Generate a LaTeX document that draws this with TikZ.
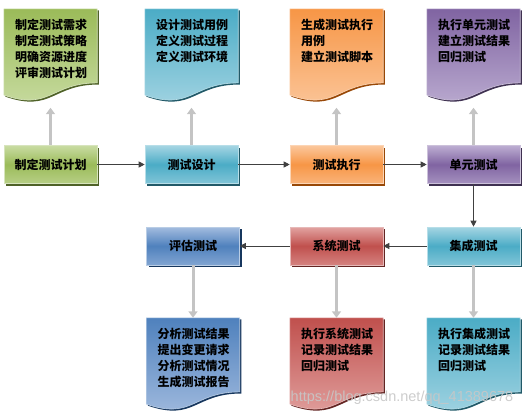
\documentclass[tikz,border=0pt]{standalone}
\usepackage{fontspec}
\setmainfont{Noto Sans CJK SC}
\newfontfamily\wmfont{Liberation Sans}
\usetikzlibrary{calc,arrows.meta,shadows}
\pgfdeclarelayer{bg}\pgfsetlayers{bg,main}
% colours: A base, L light, S shadow, B border
\definecolor{gA}{HTML}{9BBB59}\definecolor{gL}{HTML}{C9DCA3}\definecolor{gS}{HTML}{4F6228}\definecolor{gB}{HTML}{D7E4BD}
\definecolor{aA}{HTML}{4BACC6}\definecolor{aL}{HTML}{A5D5E3}\definecolor{aS}{HTML}{215968}\definecolor{aB}{HTML}{B7DEE8}
\definecolor{oA}{HTML}{F79646}\definecolor{oL}{HTML}{FBC79C}\definecolor{oS}{HTML}{984807}\definecolor{oB}{HTML}{FCD5B5}
\definecolor{pA}{HTML}{8064A2}\definecolor{pL}{HTML}{BDAED2}\definecolor{pS}{HTML}{3F3151}\definecolor{pB}{HTML}{CCC1DA}
\definecolor{bA}{HTML}{4F81BD}\definecolor{bL}{HTML}{A3BCDF}\definecolor{bS}{HTML}{17375E}\definecolor{bB}{HTML}{B9CDE5}
\definecolor{rA}{HTML}{C0504D}\definecolor{rL}{HTML}{E2A3A1}\definecolor{rS}{HTML}{632523}\definecolor{rB}{HTML}{E6B9B8}
\definecolor{arrgray}{HTML}{C4C4C4}
\newcommand\docshape[2]{%
  \begin{scope}[transform canvas={xshift=1.6pt,yshift=-1.6pt}]
  \fill[#2S] (#1.north west) -- (#1.north east) -- ($(#1.north east)!0.802!(#1.south east)$)
    .. controls ($(#1.north)!0.802!(#1.south)$) and ($(#1.north)!1.107!(#1.south)$) .. ($(#1.north west)!0.934!(#1.south west)$) -- cycle;
  \end{scope}
  \shade[top color=#2A, bottom color=#2L, draw=#2B, line width=0.6pt] (#1.north west) -- (#1.north east) -- ($(#1.north east)!0.802!(#1.south east)$)
    .. controls ($(#1.north)!0.802!(#1.south)$) and ($(#1.north)!1.107!(#1.south)$) .. ($(#1.north west)!0.934!(#1.south west)$) -- cycle;
}
\tikzset{
  txt/.style={font=\fontsize{12}{16}\selectfont\bfseries},
  box/.style={txt, minimum width=93pt, minimum height=38pt, inner sep=0pt,
    top color=#1L, bottom color=#1L!60!#1A, middle color=#1A, draw=#1B, line width=0.6pt,
    drop shadow={shadow xshift=2pt, shadow yshift=-2pt, fill=#1S, opacity=1}},
  docbox/.style={minimum width=93pt, minimum height=92pt, inner sep=0pt},
  doctext/.style={txt, anchor=north west, inner sep=0pt, align=left, xshift=11pt, yshift=-10pt},
  garrow/.style={draw=arrgray, line width=3pt, -{Triangle[width=9pt,length=6.5pt]}},
  barrow/.style={draw=black!75, line width=0.9pt, -{Triangle[width=6pt,length=6pt]}},
  wm/.style={font=\wmfont\fontsize{14.5}{16}\selectfont, text=black!22, opacity=0.9, inner sep=0pt}
}
\begin{document}
\begin{tikzpicture}[x=1pt,y=-1pt]
\useasboundingbox (0,0) rectangle (530,418);
% process boxes
\node[box=g] (plan)   at (50.5,164.5) {制定测试计划};
\node[box=a] (design) at (191.5,164.5) {测试设计};
\node[box=o] (exec)   at (336.5,164.5) {测试执行};
\node[box=p] (unit)   at (473.5,164.5) {单元测试};
\node[box=a] (integ)  at (473.5,246) {集成测试};
\node[box=r] (sys)    at (336.5,246) {系统测试};
\node[box=b] (eval)   at (193,246) {评估测试};
% documents
\node[docbox, label={[doctext]north west:制定测试需求\\制定测试策略\\明确资源进度\\评审测试计划}] (d1) at (50.5,55) {};
\node[docbox, label={[doctext]north west:设计测试用例\\定义测试过程\\定义测试环境}] (d2) at (191.5,55) {};
\node[docbox, label={[doctext]north west:生成测试执行\\用例\\建立测试脚本}] (d3) at (336.5,55) {};
\node[docbox, label={[doctext]north west:执行单元测试\\建立测试结果\\回归测试}] (d4) at (473.5,55) {};
\node[docbox, label={[doctext]north west:分析测试结果\\提出变更请求\\分析测试情况\\生成测试报告}] (d5) at (193,364) {};
\node[docbox, label={[doctext]north west:执行系统测试\\记录测试结果\\回归测试}] (d6) at (336.5,364) {};
\node[docbox, label={[doctext]north west:执行集成测试\\记录测试结果\\回归测试}] (d7) at (473.5,364) {};
\begin{pgfonlayer}{bg}
  \docshape{d1}{g}\docshape{d2}{a}\docshape{d3}{o}\docshape{d4}{p}
  \docshape{d5}{b}\docshape{d6}{r}\docshape{d7}{a}
\end{pgfonlayer}
% gray connectors
\draw[garrow, shorten >=6.5pt] (plan.north) -- (d1.south);
\draw[garrow, shorten >=6.5pt] (design.north) -- (d2.south);
\draw[garrow, shorten >=6.5pt] (exec.north) -- (d3.south);
\draw[garrow, shorten >=6.5pt] (unit.north) -- (d4.south);
\draw[garrow] (eval.south) -- (d5.north);
\draw[garrow] (sys.south) -- (d6.north);
\draw[garrow] (integ.south) -- (d7.north);
% flow
\draw[barrow] (plan.east) -- (design.west);
\draw[barrow] (design.east) -- (exec.west);
\draw[barrow] (exec.east) -- (unit.west);
\draw[barrow] (unit.south) -- (integ.north);
\draw[barrow] (integ.west) -- (sys.east);
\draw[barrow] (sys.west) -- (eval.east);
\node[wm] (mark) at (402,398) {https://blog.csdn.net/qq\_41389678};
\end{tikzpicture}
\end{document}
